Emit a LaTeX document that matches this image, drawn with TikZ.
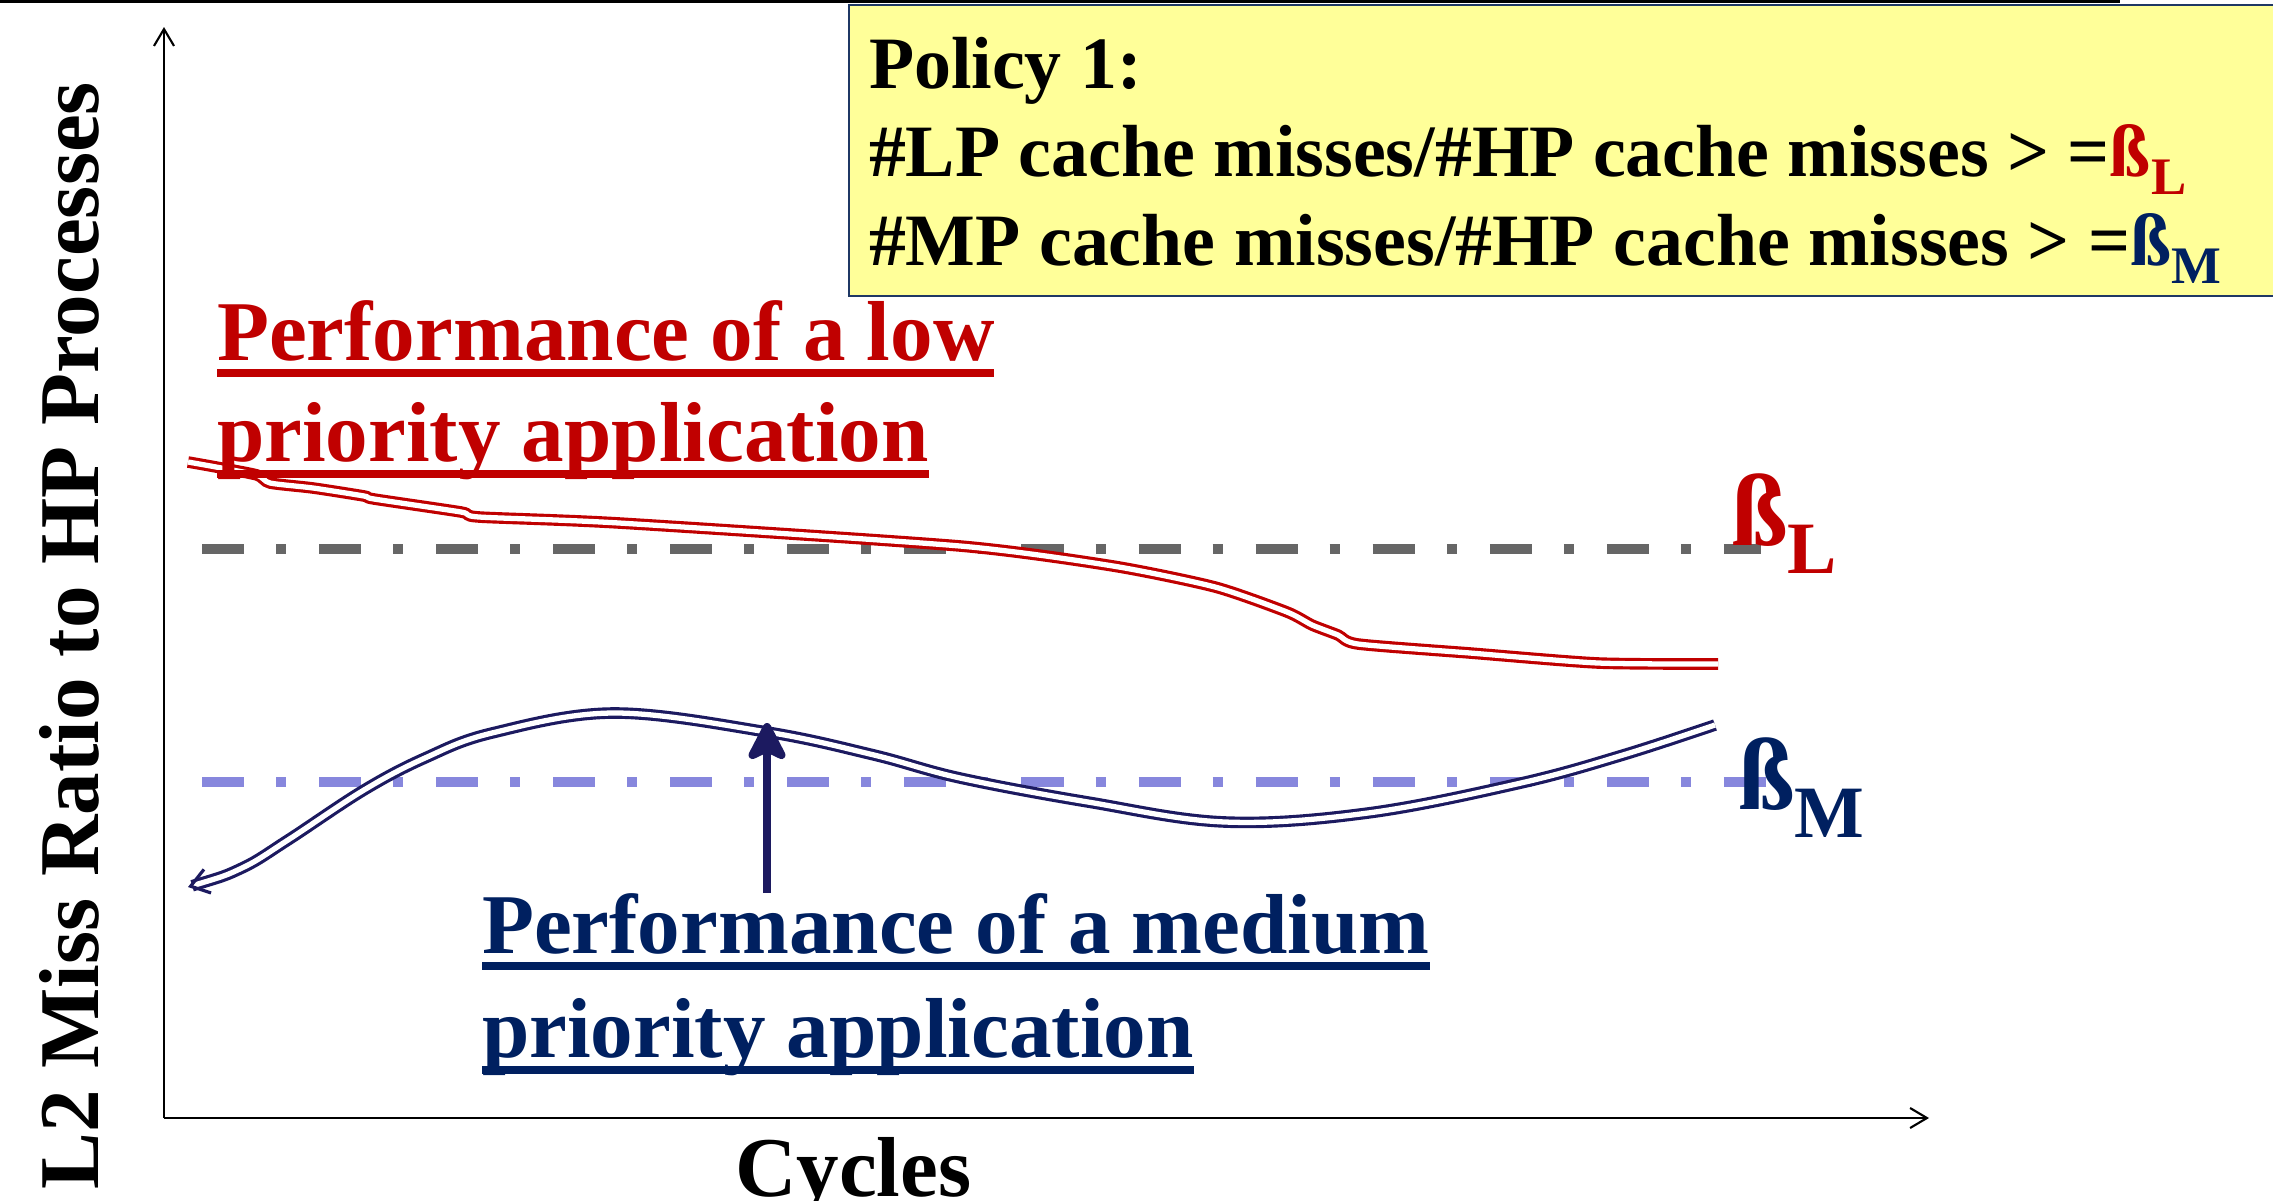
\documentclass[tikz,border=0pt]{standalone}
\usepackage{fontspec}
\setmainfont{Liberation Serif}
\usetikzlibrary{arrows.meta}
\definecolor{lowred}{HTML}{C00000}
\definecolor{midnavy}{HTML}{002060}
\definecolor{curvenavy}{HTML}{1C1A60}
\definecolor{boxyellow}{HTML}{FFFF99}
\definecolor{boxline}{HTML}{1F3864}
\definecolor{betagray}{HTML}{666666}
\definecolor{betablue}{HTML}{8787DD}
\newcommand\undl[1]{\setbox0\hbox{#1}\rlap{\rule[-0.2em]{\wd0}{0.094em}}\box0}
\begin{document}
\begin{tikzpicture}
[x=0.01cm,y=-0.01cm,
every node/.style={inner sep=0pt,outer sep=0pt,anchor=base west},
txtbox/.style={font=\fontsize{21}{25}\selectfont\bfseries},
applabel/.style={font=\fontsize{24.2}{29}\selectfont\bfseries},
betalabel/.style={font=\fontsize{29}{30}\selectfont\bfseries},
betaline/.style={line width=2.85pt,dash pattern=on 0.42cm off 0.32cm on 0.1cm off 0.33cm},
perfcurve/.style={line width=0.9pt,double=white,double distance=1.5pt},
axis/.style={line width=0.6pt,-{Straight Barb[length=4.8pt,width=5.7pt]}}]
\useasboundingbox (0,0) rectangle (2273,1200);
\draw[line width=0.77pt] (0,1.3) -- (2120,1.3);
% policy box
\draw[boxline,line width=0.6pt,fill=boxyellow] (849,5) rectangle (2300,296);
\node[txtbox] (pol1) at (869,88) {Policy 1:};
\node[txtbox] (pol2) at (869,176) {\#LP cache misses/\#HP cache misses > =\textcolor{lowred}{ß\raisebox{-5.4pt}{\fontsize{15}{15}\selectfont L}}};
\node[txtbox] (pol3) at (869,265) {\#MP cache misses/\#HP cache misses > =\textcolor{midnavy}{ß\raisebox{-5.4pt}{\fontsize{15}{15}\selectfont M}}};
% axes
\coordinate (origin) at (164,1118);
\coordinate (ytop) at (164,27);
\coordinate (xend) at (1929,1118);
\draw[axis] (origin) -- (ytop);
\draw[axis] (origin) -- (xend);
\node[applabel,rotate=90] (ylab) at (98,1189) {L2 Miss Ratio to HP Processes};
\node[applabel] (xlab) at (735,1196) {Cycles};
% thresholds
\draw[betaline,betagray] (202,549) -- (1761,549);
\draw[betaline,betablue] (202,782) -- (1769,782);
\node[betalabel,lowred] (betaL) at (1731,545) {ß\raisebox{-8pt}{\fontsize{21}{21}\selectfont L}};
\node[betalabel,midnavy] (betaM) at (1738,809) {ß\raisebox{-8pt}{\fontsize{21}{21}\selectfont M}};
% curves
\draw[perfcurve,lowred] plot[smooth,tension=0.4] coordinates {(188,462) (216,467) (257,475) (270,483) (313,488) (364,496) (374,499) (461,512) (479,517) (619,523) (960,546) (1113,566) (1215,587) (1287,612) (1312,625) (1338,635) (1358,644) (1470,653) (1598,663) (1718,664)};
\draw[perfcurve,curvenavy,{Straight Barb[length=5pt,width=7pt]}-] plot[smooth,tension=0.6] coordinates {(188,887) (242,868) (288,840) (364,790) (425,758) (492,733) (614,713) (767,732) (874,755) (960,778) (1088,802) (1225,822) (1368,813) (1521,783) (1623,755) (1715,725)};
% labels
\node[applabel,lowred] (low1) at (217,360) {\undl{Performance of a low}};
\node[applabel,lowred] (low2) at (217,461) {\undl{priority application}};
\node[applabel,midnavy] (mid1) at (482,953) {\undl{Performance of a medium}};
\node[applabel,midnavy] (mid2) at (482,1057) {\undl{priority application}};
\coordinate (midpeak) at (767,723);
\draw[curvenavy,line width=2.3pt,-{Stealth[length=12.8pt,width=13pt,inset=3pt,round]}] (mid1.north -| midpeak) -- (midpeak);
\end{tikzpicture}
\end{document}
